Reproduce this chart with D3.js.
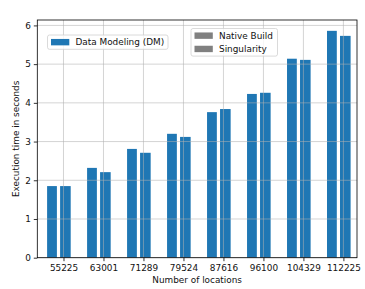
<!DOCTYPE html>
<html>
<head>
<meta charset="utf-8">
<script src="https://d3js.org/d3.v7.min.js"></script>
<style>
body { margin: 0; background: #fff; }
text { font-family: "DejaVu Sans", sans-serif; fill: #111; }
</style>
</head>
<body>
<div id="chart"></div>
<script>

// data
var locations = ["55225", "63001", "71289", "79524", "87616", "96100", "104329", "112225"];
var dmFirst  = [1.85, 2.32, 2.81, 3.20, 3.76, 4.23, 5.14, 5.86];
var dmSecond = [1.85, 2.21, 2.71, 3.12, 3.84, 4.26, 5.11, 5.73];
var yTicks = [0, 1, 2, 3, 4, 5, 6];
var legendMain = ["Data Modeling (DM)"];
var legendGray = ["Native Build", "Singularity"];

var W = 365, H = 289;
var plotL = 37.3, plotR = 357, plotT = 20, plotB = 257.7;
var fs = 8.9;

var svg = d3.select("#chart").append("svg")
  .attr("width", W).attr("height", H);

var x = d3.scaleLinear().domain([-0.655, 7.34]).range([plotL, plotR]);
var y = d3.scaleLinear().domain([0, 6.14]).range([plotB, plotT]);

// bars (two per location)
var pairs = [
  {vals: dmFirst,  x0: -0.41, x1: -0.165},
  {vals: dmSecond, x0: -0.085, x1: 0.18}
];
pairs.forEach(function(p) {
  svg.append("g").selectAll("rect")
    .data(p.vals)
    .enter().append("rect")
      .attr("x", function(d, i) { return x(i + p.x0); })
      .attr("width", function(d, i) { return x(i + p.x1) - x(i + p.x0); })
      .attr("y", function(d) { return y(d); })
      .attr("height", function(d) { return y(0) - y(d); })
      .attr("fill", "#1f77b4");
});

// grid on top of the bars
var grid = svg.append("g").attr("stroke", "#b0b0b0").attr("stroke-opacity", 0.55).attr("stroke-width", 1);
grid.selectAll("line.v").data(locations).enter().append("line")
  .attr("x1", function(d, i) { return x(i); }).attr("x2", function(d, i) { return x(i); })
  .attr("y1", plotT).attr("y2", plotB);
grid.selectAll("line.h").data(yTicks).enter().append("line")
  .attr("y1", function(d) { return y(d); }).attr("y2", function(d) { return y(d); })
  .attr("x1", plotL).attr("x2", plotR);

// axes
var xAxis = svg.append("g")
  .attr("transform", "translate(0," + plotB + ")")
  .call(d3.axisBottom(x).tickValues(d3.range(locations.length))
    .tickFormat(function(i) { return locations[i]; }).tickSize(3.5).tickPadding(3));
var yAxis = svg.append("g")
  .attr("transform", "translate(" + plotL + ",0)")
  .call(d3.axisLeft(y).tickValues(yTicks).tickFormat(d3.format("d")).tickSize(3.5).tickPadding(3));
[xAxis, yAxis].forEach(function(a) {
  a.select(".domain").remove();
  a.selectAll("line").attr("stroke", "#000").attr("stroke-width", 0.8);
  a.selectAll("text").style("font-size", fs + "px").style("font-family", "DejaVu Sans").attr("fill", "#111");
});

// frame
svg.append("rect")
  .attr("x", plotL).attr("y", plotT)
  .attr("width", plotR - plotL).attr("height", plotB - plotT)
  .attr("fill", "none").attr("stroke", "#000").attr("stroke-width", 0.8);

// axis labels
svg.append("text")
  .attr("x", (plotL + plotR) / 2).attr("y", 283)
  .attr("text-anchor", "middle").style("font-size", fs + "px")
  .text("Number of locations");
svg.append("text")
  .attr("transform", "translate(19," + ((plotT + plotB) / 2) + ") rotate(-90)")
  .attr("text-anchor", "middle").style("font-size", fs + "px")
  .text("Execution time in seconds");

// legends
function legend(items, color, bx, by, bw) {
  var rowH = 13.3;
  var g = svg.append("g");
  g.append("rect")
    .attr("x", bx).attr("y", by)
    .attr("width", bw).attr("height", 14.3 + rowH * (items.length - 1))
    .attr("rx", 2)
    .attr("fill", "#fff").attr("fill-opacity", 0.8)
    .attr("stroke", "#d0d0d0").attr("stroke-width", 0.8);
  items.forEach(function(t, i) {
    var cy = by + 7.15 + rowH * i;
    g.append("rect")
      .attr("x", bx + 3.5).attr("y", cy - 3.2)
      .attr("width", 18.3).attr("height", 6.4)
      .attr("fill", color);
    g.append("text")
      .attr("x", bx + 28).attr("y", cy + 3.2)
      .style("font-size", fs + "px")
      .text(t);
  });
}
legend(legendMain, "#1f77b4", 47.5, 35, 120.5);
legend(legendGray, "#808080", 191, 28.5, 86.5);

</script>
</body>
</html>
